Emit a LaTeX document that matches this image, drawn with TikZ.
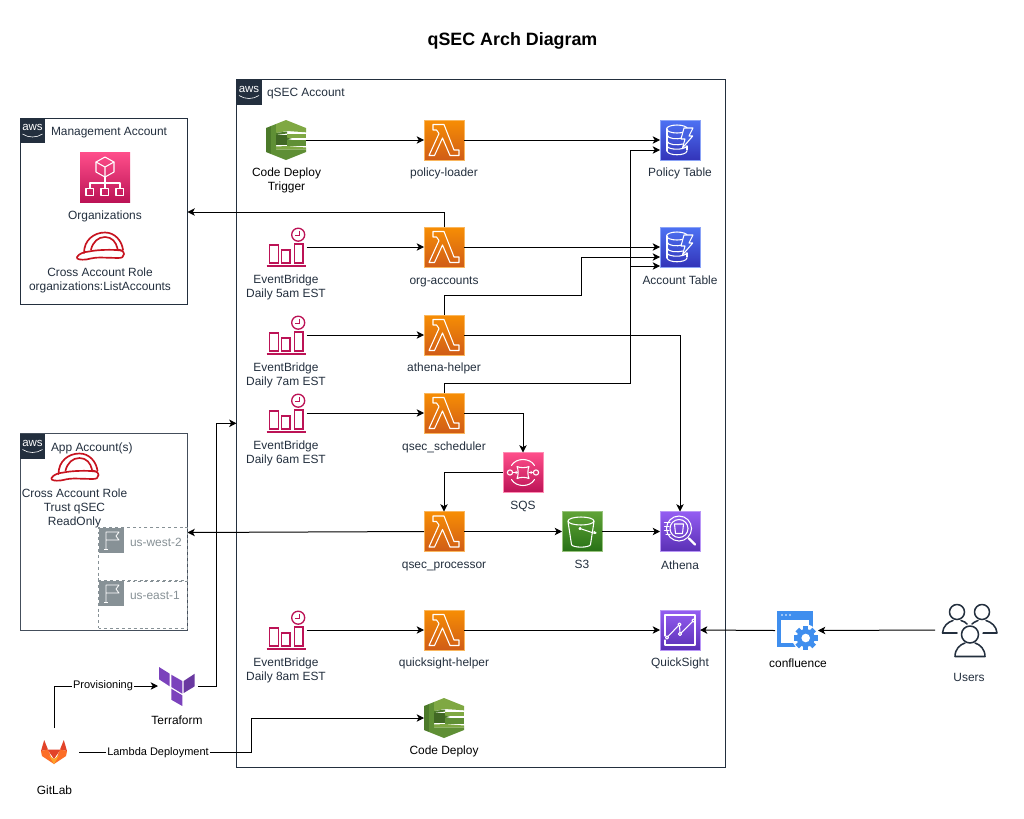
\documentclass[tikz,border=0pt]{standalone}
\usepackage{fontspec}
\setmainfont{Liberation Sans}
\usetikzlibrary{arrows.meta,calc}
\definecolor{awsdark}{HTML}{232F3E}
\definecolor{flaggray}{HTML}{879196}
\definecolor{mauve}{HTML}{BC1356}
\definecolor{hatred}{HTML}{C7131F}
\definecolor{confblue}{HTML}{3F8EEE}
\definecolor{tfpurple}{HTML}{7B42BC}
\definecolor{cdA}{HTML}{7FA843}
\definecolor{cdB}{HTML}{5F8F35}
\definecolor{cdC}{HTML}{4C7A2A}
\definecolor{glred}{HTML}{E24329}
\definecolor{glorange}{HTML}{FC6D26}
\definecolor{glyellow}{HTML}{FCA326}
\definecolor{lamT}{HTML}{F78E04}\definecolor{lamB}{HTML}{D05C17}
\definecolor{ddbT}{HTML}{4D72F3}\definecolor{ddbB}{HTML}{3334B9}
\definecolor{pinkT}{HTML}{FF4F8B}\definecolor{pinkB}{HTML}{BC1356}
\definecolor{s3T}{HTML}{60A337}\definecolor{s3B}{HTML}{277116}
\definecolor{purT}{HTML}{945DF2}\definecolor{purB}{HTML}{5A30B5}
\tikzset{
  x=0.75pt,y=-0.75pt,
  every node/.style={outer sep=0pt},
  lbl/.style={font=\fontsize{8.95}{10.5}\selectfont,text=awsdark,inner sep=0pt,align=center,yshift=-1.1pt,execute at begin node=\strut,execute at end node=\strut},
  lblk/.style={lbl,text=black},
  edgelbl/.style={font=\fontsize{8.25}{10}\selectfont,text=black,fill=white,inner sep=0.6pt},
  titlelbl/.style={font=\fontsize{13.4}{16}\selectfont\bfseries,text=black,inner sep=0pt},
  container/.style={draw=awsdark,line width=0.75pt,fill=white,anchor=north west,inner sep=0pt},
  regionbox/.style={draw=flaggray,line width=0.75pt,dash pattern=on 2.2pt off 2.2pt,anchor=north west,inner sep=0pt},
  logo/.style={fill=awsdark,minimum size=18.75pt,anchor=north west,inner sep=0pt},
  flagbox/.style={fill=flaggray,minimum size=18.75pt,anchor=north west,inner sep=0pt},
  iconsq/.style={minimum size=30pt,inner sep=0pt,shading angle=0},
  blankicon/.style={minimum size=30pt,inner sep=0pt},
  glyph/.style={draw=white,line width=0.8pt,line join=round,line cap=round},
  conn/.style={draw=black,line width=0.75pt,-{Stealth[length=5.5pt,width=5.6pt,inset=1.5pt]}},
  mv/.style={draw=mauve,line width=1pt},
  hat/.style={draw=hatred,line width=1.25pt,line join=round,line cap=round},
  person/.style={draw=awsdark,line width=1.15pt,line join=round,line cap=round},
}
\newcommand{\LambdaIcon}[3]{%
  \node[iconsq,top color=lamT,bottom color=lamB,draw=lamT!65!white,line width=.4pt] (#1) at (#2,#3) {};
  \begin{scope}[shift={(#1.north west)}]
    \draw[glyph] (9,4.5)--(20,4.5)--(30,30)--(35,30)--(35,35.5)--(26,35.5)--(18.5,18)--(10.5,35.5)--(5,35.5)--(15,13.5)--(12.5,10)--(9,10)--cycle;
  \end{scope}}
\newcommand{\DynamoIcon}[3]{%
  \node[iconsq,top color=ddbT,bottom color=ddbB,draw=ddbT!65!white,line width=.4pt] (#1) at (#2,#3) {};
  \begin{scope}[shift={(#1.north west)}]
    \draw[glyph] (7,9) -- (7,31) (27,30) -- (27,26);
    \draw[glyph] (17,9) ellipse [x radius=10.5,y radius=4];
    \draw[glyph] (7,15) .. controls (8,19) and (17,19.5) .. (22,18);
    \draw[glyph] (7,21) .. controls (8,25) and (17,25.5) .. (23,24);
    \draw[glyph] (7,26) .. controls (8,30) and (24,30.5) .. (27,26);
    \draw[glyph] (7,31) .. controls (8,36) and (26,36) .. (27,31);
    \draw[glyph,fill=ddbT!75!ddbB] (24,8) -- (33,8) -- (29,16) -- (32.7,16) -- (22.5,28) -- (25,19) -- (21,19) -- cycle;
  \end{scope}}
\newcommand{\EventIcon}[3]{%
  \node[blankicon] (#1) at (#2,#3) {};
  \begin{scope}[shift={(#1.north west)}]
    \draw[mv] (2.7,36) rectangle (12,18);
    \draw[mv] (15,36) rectangle (23.5,23);
    \draw[mv] (27.7,36) rectangle (36.5,17);
    \draw[mv] (0,39) -- (39,39);
    \draw[mv] (31.7,7.7) circle [radius=6.5];
    \draw[mv,line width=.8pt] (33,3.8) -- (33,8.5) -- (28.5,8.5);
  \end{scope}}
\newcommand{\CodeDeployIcon}[3]{%
  \node[blankicon] (#1) at (#2,#3) {};
  \begin{scope}[shift={(#1.north west)}]
    \fill[cdC] (0,8)--(5,6)--(5,34)--(0,32)--cycle;
    \fill[cdB] (5,6)--(10,4)--(10,36)--(5,34)--cycle;
    \fill[cdA] (10,4)--(20,0)--(40,8)--(40,12.3)--(21,11)--(10,13)--cycle;
    \fill[cdC] (10,13)--(21,11.5)--(21,13.5)--(10,15)--cycle;
    \fill[cdC!85!black] (10,15) rectangle (21,25);
    \fill[cdA] (21,13.5) rectangle (40,17.5);
    \fill[cdB] (21,20) rectangle (40,25.5);
    \fill[cdC] (21,17.5) -- (21,20) -- (26,19) -- cycle;
    \fill[cdA] (10,26.5)--(21,26)--(40,27.5)--(40,29.5)--(10,29.5)--cycle;
    \fill[cdB] (10,29.5)--(40,29.5)--(40,32)--(20,40)--(10,36)--cycle;
  \end{scope}}
\newcommand{\HardHat}[3]{%
  \node[inner sep=0pt,minimum width=36pt,minimum height=21pt] (#1) at (#2,#3) {};
  \begin{scope}[shift={(#1.north west)}]
    \draw[hat] (8,21) .. controls (8,8) and (18,0.5) .. (29,0.5) .. controls (39,0.5) and (46,9) .. (47,18);
    \draw[hat] (15,17.5) .. controls (17,10) and (22,5) .. (29,5) .. controls (36,5) and (40,10) .. (41.5,16.5);
    \draw[hat] (1,25) .. controls (3,21.5) and (8,20) .. (13,19.5) .. controls (20,18) and (32,17.5) .. (40,18) .. controls (44,17) and (48,19) .. (48,22) .. controls (48,25) and (46,26) .. (42,26) -- (24,25.5) .. controls (17,25.5) and (14,27) .. (10,27.5) .. controls (5,28) and (0,27.5) .. (1,25) -- cycle;
    \draw[hat] (40,18) -- (45,18.5);
  \end{scope}}
\newcommand{\AwsLogo}[3]{%
  \node[logo] (#1) at (#2,#3) {};
  \node[font=\fontsize{8.6}{9}\selectfont,text=white,inner sep=0pt] (#1t) at ($(#1.center)+(0,-2.6)$) {aws};
  \draw[white,line width=.45pt] ($(#1.center)+(-10,3.5)$) .. controls ($(#1.center)+(-4,7.5)$) and ($(#1.center)+(4,7.5)$) .. ($(#1.center)+(10,3.5)$);}
\newcommand{\FlagBox}[3]{%
  \node[flagbox] (#1) at (#2,#3) {};
  \begin{scope}[shift={(#1.north west)}]
    \draw[white,line width=.6pt,line join=round] (7,21) -- (7,4) -- (20,4) -- (17,8) -- (20,12) -- (7,12);
    \draw[white,line width=.6pt] (5,21) -- (9,21);
  \end{scope}}
\begin{document}
\begin{tikzpicture}
\useasboundingbox (0,0) rectangle (1024,818);
\fill[white] (0,0) rectangle (1024,818);

% title
\node[titlelbl] (title) at (512.5,41) {qSEC Arch Diagram};

% containers
\node[container,minimum width=366.75pt,minimum height=516pt] (qsec) at (236.5,79.5) {};
\AwsLogo{qseclogo}{236.5}{79.5}
\node[lbl,anchor=west] (qsect) at (267,92) {qSEC Account};

\node[container,minimum width=125.6pt,minimum height=140pt] (mgmt) at (20,118) {};
\AwsLogo{mgmtlogo}{20}{118}
\node[lbl,anchor=west] (mgmtt) at (51,131.5) {Management Account};

\node[container,draw=awsdark!85!white,minimum width=125.6pt,minimum height=147.5pt] (app) at (20,433.5) {};
\AwsLogo{applogo}{20}{433.5}
\node[lbl,anchor=west] (appt) at (51,447) {App Account(s)};

\node[regionbox,minimum width=66.5pt,minimum height=40pt] (west) at (98.5,527.5) {};
\node[regionbox,minimum width=66.5pt,minimum height=35.5pt] (east) at (98.5,581) {};
\FlagBox{westflag}{99}{528}
\FlagBox{eastflag}{99}{581}
\node[lbl,text=flaggray,anchor=west] (westt) at (130,542) {us-west-2};
\node[lbl,text=flaggray,anchor=west] (eastt) at (130,595) {us-east-1};

% organizations
\node[minimum size=37.5pt,inner sep=0pt,shading angle=0,top color=pinkT,bottom color=pinkB] (orgs) at (105,177) {};
\begin{scope}[shift={(orgs.north west)}]
  \draw[glyph] (25,5) -- (34,10) -- (34,20) -- (25,25) -- (16,20) -- (16,10) -- cycle;
  \draw[glyph] (16,10) -- (25,15) -- (34,10) (25,15) -- (25,25);
  \draw[glyph] (25,25) -- (25,36.5) (10,36.5) -- (10,31) -- (40,31) -- (40,36.5);
  \draw[glyph] (6,36.5) rectangle (13.5,43.5);
  \draw[glyph] (21,36.5) rectangle (28.5,43.5);
  \draw[glyph] (36,36.5) rectangle (43.5,43.5);
\end{scope}
\node[lbl] (orgst) at (105,215) {Organizations};
\HardHat{hat1}{100}{246}
\node[lbl] (hat1t) at (100,280) {Cross Account Role\\organizations:ListAccounts};
\HardHat{hat2}{74.5}{467}
\node[lbl] (hat2t) at (74.5,508) {Cross Account Role\\Trust qSEC\\ReadOnly};

% compute column
\CodeDeployIcon{trigger}{286}{140}
\node[lblk] (triggert) at (286.5,179.5) {Code Deploy\\Trigger};
\EventIcon{ev5}{286.5}{247}
\node[lbl] (ev5t) at (286,287) {EventBridge\\Daily 5am EST};
\EventIcon{ev7}{286.5}{335}
\node[lbl] (ev7t) at (286,374.5) {EventBridge\\Daily 7am EST};
\EventIcon{ev6}{286.5}{413}
\node[lbl] (ev6t) at (286,453) {EventBridge\\Daily 6am EST};
\EventIcon{ev8}{286.5}{630}
\node[lbl] (ev8t) at (286,669.5) {EventBridge\\Daily 8am EST};

\LambdaIcon{policy}{444}{140}
\node[lbl] (policyt) at (444,172.5) {policy-loader};
\LambdaIcon{org}{444}{247}
\node[lbl] (orgt) at (444,280) {org-accounts};
\LambdaIcon{athh}{444}{335}
\node[lbl] (athht) at (444,367.5) {athena-helper};
\LambdaIcon{sched}{444}{413}
\node[lbl] (schedt) at (444,446) {qsec\_scheduler};
\LambdaIcon{proc}{444}{531.5}
\node[lbl] (proct) at (444,564) {qsec\_processor};
\LambdaIcon{qsh}{444}{630}
\node[lbl] (qsht) at (444,662) {quicksight-helper};
\CodeDeployIcon{deploy}{444}{718}
\node[lblk] (deployt) at (444,750.5) {Code Deploy};

% tables
\DynamoIcon{ptable}{680}{140}
\node[lbl] (ptablet) at (680,172.5) {Policy Table};
\DynamoIcon{atable}{680}{247}
\node[lbl] (atablet) at (680,280) {Account Table};

% sqs
\node[iconsq,top color=pinkT,bottom color=pinkB,draw=pinkT!65!white,line width=.4pt] (sqs) at (523,472.5) {};
\begin{scope}[shift={(sqs.north west)}]
  \draw[glyph] (8.5,13) .. controls (13,5) and (27,5) .. (31.5,13);
  \draw[glyph] (8.5,27) .. controls (13,35) and (27,35) .. (31.5,27);
  \draw[glyph] (7,20) circle [radius=2.6];
  \draw[glyph] (33,20) circle [radius=2.6];
  \draw[glyph] (14,14) .. controls (17,15.5) and (23,15.5) .. (26,14) .. controls (24.5,17) and (24.5,23) .. (26,26) .. controls (23,24.5) and (17,24.5) .. (14,26) .. controls (15.5,23) and (15.5,17) .. (14,14) -- cycle;
  \draw[glyph] (10,20) -- (14,20) (26,20) -- (30,20);
  \fill[white] (15,20) -- (12.5,18.3) -- (12.5,21.7) -- cycle;
  \fill[white] (30,20) -- (27.5,18.3) -- (27.5,21.7) -- cycle;
\end{scope}
\node[lbl] (sqst) at (523,505) {SQS};

% s3
\node[iconsq,top color=s3T,bottom color=s3B,draw=s3T!65!white,line width=.4pt] (s3) at (582,531.5) {};
\begin{scope}[shift={(s3.north west)}]
  \draw[glyph] (19,9.5) ellipse [x radius=13,y radius=4];
  \draw[glyph] (6,10) -- (9.5,33) .. controls (10.5,36.5) and (27.5,36.5) .. (28.5,33) -- (32,10);
  \draw[glyph] (18,17) -- (33,22) .. controls (35,23) and (34,20) .. (32,20);
  \draw[glyph,fill=s3T] (18,17) circle [radius=1];
\end{scope}
\node[lbl] (s3t) at (582,564) {S3};

% athena
\node[iconsq,top color=purT,bottom color=purB,draw=purT!65!white,line width=.4pt] (athena) at (680,531.5) {};
\begin{scope}[shift={(athena.north west)}]
  \draw[glyph] (19,17) circle [radius=12.5];
  \draw[glyph] (19,17) circle [radius=9];
  \draw[glyph,line width=1.7pt] (29,27) -- (35,33);
  \draw[glyph] (4.5,11) -- (10,11) (4.5,15) -- (9,15) (4.5,19) -- (9,19) (6,23) -- (10,23);
  \draw[glyph] (14.5,12.5) -- (23.5,12.5) -- (22.5,22) -- (15.5,22) -- cycle;
\end{scope}
\node[lbl] (athenat) at (680,565) {Athena};

% quicksight
\node[iconsq,top color=purT,bottom color=purB,draw=purT!65!white,line width=.4pt] (qs) at (680,630) {};
\begin{scope}[shift={(qs.north west)}]
  \draw[glyph] (5,26) -- (5,5) -- (35,5) -- (35,35) -- (8,35) -- (5,35) -- (5,30);
  \draw[glyph] (7,27.5) -- (19.5,14.5) -- (20,24) -- (33.5,10.5);
  \foreach \p in {(7,27.5),(19.5,14.5),(20,24),(33.5,10.5)} \draw[glyph,fill=purT!60!purB] \p circle [radius=1.6];
\end{scope}
\node[lbl] (qst) at (680,662) {QuickSight};

% confluence
\node[inner sep=0pt,minimum width=30.75pt,minimum height=29.25pt] (conf) at (797.5,630.5) {};
\begin{scope}[shift={(conf.north west)}]
  \fill[confblue] (0,0) rectangle (36,36);
  \fill[white] (4,8.7) rectangle (32,32);
  \fill[white] (5,4) circle [radius=.9] (9,4) circle [radius=.9] (13,4) circle [radius=.9];
  \fill[white] (28.7,27) circle [radius=13.5];
  \foreach \a in {0,45,...,315} {
    \fill[confblue,rotate around={\a:(28.7,27)}] (26.1,15) rectangle (31.3,21);
  }
  \fill[confblue] (28.7,27) circle [radius=9];
  \fill[white] (28.7,27) circle [radius=4.3];
\end{scope}
\node[lblk] (conft) at (798,663) {confluence};

% users
\node[inner sep=0pt,minimum width=42pt,minimum height=40.5pt] (users) at (970,630) {};
\begin{scope}[shift={(users.north west)}]
  \draw[person] (15,9) circle [radius=7.5];
  \draw[person] (40,9) circle [radius=7.5];
  \draw[person] (0.5,30) .. controls (1,23) and (6,19) .. (11,17.5);
  \draw[person] (0.5,30) -- (15,30);
  \draw[person] (19,17.5) .. controls (22,18.5) and (24,19.5) .. (25,21);
  \draw[person] (36,17.5) .. controls (33,18.5) and (31,20) .. (30,21);
  \draw[person] (44,17.5) .. controls (49,19) and (54.5,23) .. (55,30) -- (41,30);
  \draw[person] (28,31.5) circle [radius=8.5];
  \draw[person] (13,53.5) .. controls (13,46) and (18,41.5) .. (23,40) (33,40) .. controls (38,41.5) and (43,46) .. (43,53.5) -- (13,53.5);
\end{scope}
\node[lbl] (userst) at (969,677) {Users};

% terraform
\node[inner sep=0pt,minimum width=27pt,minimum height=29.25pt] (tf) at (177,686.5) {};
\begin{scope}[shift={(tf.north west)}]
  \fill[tfpurple] (0,0)--(10.7,6.7)--(10.7,19.3)--(0,12.3)--cycle;
  \fill[tfpurple] (12.3,7.7)--(23.3,14)--(23.3,26.7)--(12.3,20)--cycle;
  \fill[tfpurple!85!black] (24.7,14)--(35.7,6.7)--(35.7,19.3)--(24.7,26)--cycle;
  \fill[tfpurple] (12.3,21.7)--(23.3,28.3)--(23.3,39)--(12.3,32.7)--cycle;
\end{scope}
\node[lblk] (tft) at (177,720) {Terraform};

% gitlab
\node[inner sep=0pt,minimum width=19.5pt,minimum height=18pt] (gl) at (54,752) {};
\begin{scope}[shift={(gl.north west)}]
  \fill[glred] (7,9.5)--(3.2,0)--(0,11)--cycle;
  \fill[glred] (19,9.5)--(22.8,0)--(26,11)--cycle;
  \fill[glorange] (0,11)--(7,9.5)--(13,24)--(1,16)--cycle;
  \fill[glorange] (26,11)--(19,9.5)--(13,24)--(25,16)--cycle;
  \fill[glred] (6.5,9.5)--(19.5,9.5)--(13,19)--cycle;
  \fill[glyellow] (8,15.5)--(13,19)--(18,15.5)--(13,24)--cycle;
\end{scope}
\node[lblk] (glt) at (54.5,790) {GitLab};

% connectors
\draw[conn] (trigger.east) -- (policy.west);
\draw[conn] (policy.east) -- (ptable.west);
\draw[conn] (ev5.east) -- (org.west);
\coordinate (mgmtin) at (187.5,212);
\draw[conn] (org.north) |- (mgmtin);
\draw[conn] (org.east) -- (atable.west);
\coordinate (aIn2) at ($(atable.west)+(0,10)$);
\coordinate (aIn3) at ($(atable.west)+(0,19)$);
\coordinate (pIn2) at ($(ptable.west)+(0,10)$);
\coordinate (athBend) at (581,295.5);
\coordinate (athBend2) at (581,257);
\draw[conn] (athh.north) |- (athBend) -- (athBend2) -- (aIn2);
\draw[conn] (ev7.east) -- (athh.west);
\draw[conn] (athh.east) -| (athena.north);
\draw[conn] (ev6.east) -- (sched.west);
\coordinate (schedBend) at (630,383);
\coordinate (aBranch) at (630,266);
\draw[conn] (sched.north) |- (schedBend) |- (pIn2);
\draw[conn] (aBranch) -- (aIn3);
\draw[conn] (sched.east) -| (sqs.north);
\draw[conn] (sqs.west) -| (proc.north);
\draw[conn] (proc.east) -- (s3.west);
\draw[conn] (s3.east) -- (athena.west);
\coordinate (westin) at (187.5,532.5);
\draw[conn] (proc.west) -- (westin);
\draw[conn] (ev8.east) -- (qsh.west);
\draw[conn] (qsh.east) -- (qs.west);
\coordinate (confout) at ($(conf.west)+(-2,0)$);
\draw[conn] (confout) -- (qs.east);
\coordinate (usersout) at ($(users.west)+(-7,0)$);
\draw[conn] (usersout) -- (conf.east);
\coordinate (glup) at (54.5,728);
\coordinate (tfin) at (158,686);
\draw[conn] (glup) |- (tfin);
\node[edgelbl] (provl) at (103,686) {Provisioning};
\coordinate (qsecin) at (236.5,423.3);
\coordinate (tfout) at ($(tf.east)+(3,0)$);
\coordinate (tfup) at (216.7,686.5);
\draw[conn] (tfout) -- (tfup) |- (qsecin);
\coordinate (glright) at (79,752.8);
\coordinate (dbend1) at (251.7,752.8);
\coordinate (dbend2) at (251.7,718);
\draw[conn] (glright) -- (dbend1) -- (dbend2) -- (deploy.west);
\node[edgelbl] (lambdal) at (158,753) {Lambda Deployment};
\end{tikzpicture}
\end{document}
